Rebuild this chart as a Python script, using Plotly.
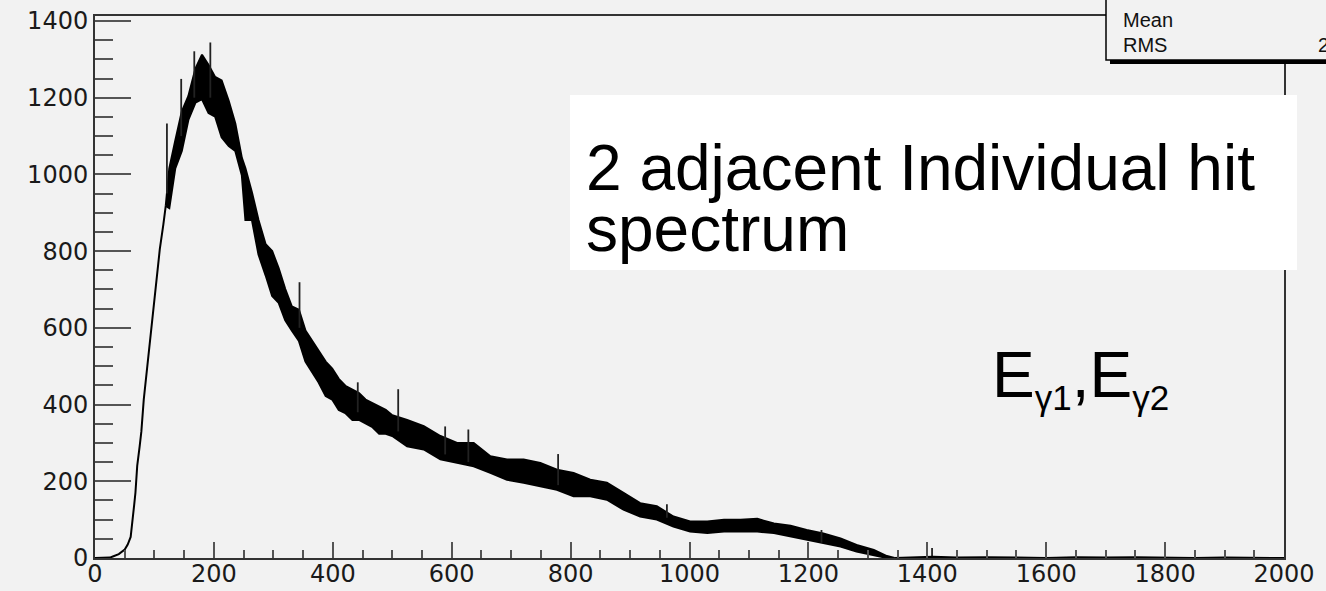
import plotly.graph_objects as go

# ---------------- data ----------------
# rising edge (single thin line): energy, counts
rise_energy = [0, 10, 20, 25, 30, 40, 50, 55, 60, 63, 66, 68, 71, 75, 78, 82, 88, 94, 101, 103, 109, 115, 119]
rise_counts = [0, 0, 0, 1, 4, 10, 22, 35, 55, 90, 140, 170, 240, 290, 330, 413, 500, 587, 672, 700, 805, 870, 918]

# noisy band: energy, upper edge, lower edge of the fluctuating histogram
band_energy = [119, 125, 135, 146, 157, 169, 180, 191, 202, 213, 225, 236, 247, 253, 264, 275, 287, 298,
               309, 320, 331, 343, 354, 365, 376, 388, 399, 410, 421, 433, 444, 455, 466, 478, 489, 500,
               525, 553, 581, 609, 637, 665, 693, 721, 749, 777, 805, 833, 861, 889, 917, 945, 973,
               1001, 1030, 1058, 1086, 1114, 1142, 1170, 1197, 1225, 1254, 1281, 1310, 1332, 1345]
band_upper = [918, 1016, 1088, 1164, 1204, 1276, 1312, 1285, 1254, 1245, 1191, 1133, 1043, 1016, 953, 881, 818, 800,
              755, 701, 656, 647, 593, 566, 539, 512, 494, 467, 449, 440, 430, 413, 404, 396, 386, 372,
              360, 344, 318, 300, 300, 265, 257, 257, 248, 230, 222, 204, 196, 170, 143, 135, 108,
              95, 95, 100, 100, 102, 90, 84, 73, 64, 51, 34, 21, 5, 0]
band_lower = [918, 912, 1016, 1061, 1142, 1187, 1196, 1160, 1151, 1097, 1074, 1061, 998, 881, 881, 791, 737, 683,
              665, 620, 593, 566, 512, 485, 458, 422, 413, 386, 378, 360, 360, 351, 342, 324, 324, 318,
              291, 283, 257, 248, 239, 222, 204, 196, 187, 178, 161, 161, 152, 126, 108, 100, 82,
              69, 65, 69, 69, 69, 65, 56, 47, 38, 30, 17, 8, 0, 0]

# isolated spikes above the band: energy, spike top, base
spike_energy = [121, 145, 167, 194, 344, 442, 510, 589, 628, 779, 962, 1222, 1408]
spike_top = [1133, 1249, 1321, 1344, 719, 458, 440, 343, 335, 271, 140, 73, 26]
spike_base = [950, 1100, 1200, 1200, 600, 380, 330, 270, 250, 190, 105, 40, 0]

# empty tail with tiny fluctuations
tail_energy = [1345, 1380, 1410, 1450, 1500, 1550, 1600, 1650, 1700, 1750, 1800, 1850, 1900, 1950, 2000]
tail_counts = [0, 1, 3, 1, 2, 1, 0, 2, 1, 2, 1, 0, 1, 0, 0]

x_ticks = [0, 200, 400, 600, 800, 1000, 1200, 1400, 1600, 1800, 2000]
y_ticks = [0, 200, 400, 600, 800, 1000, 1200, 1400]

# ---------------- figure ----------------
W, H = 1326, 591
L, R, T, B = 95, 42, 16, 33
PW, PH = W - L - R, H - T - B


def px_x(p):
    return (p - L) / PW


def px_y(p):
    return (H - B - p) / PH


BG = "#f2f2f2"
LINE = dict(color="black", width=2)

fig = go.Figure()

fig.add_trace(go.Scatter(x=rise_energy, y=rise_counts, mode="lines", line=LINE, hoverinfo="skip"))
fig.add_trace(go.Scatter(x=band_energy, y=band_lower, mode="lines", line=LINE, hoverinfo="skip"))
fig.add_trace(go.Scatter(x=band_energy, y=band_upper, mode="lines", line=LINE,
                         fill="tonexty", fillcolor="black", hoverinfo="skip"))

sx, sy = [], []
for e, t, b in zip(spike_energy, spike_top, spike_base):
    sx += [e, e, None]
    sy += [b, t, None]
fig.add_trace(go.Scatter(x=sx, y=sy, mode="lines", line=dict(color="#222", width=1.8), hoverinfo="skip"))
fig.add_trace(go.Scatter(x=tail_energy, y=tail_counts, mode="lines", line=LINE, hoverinfo="skip"))

TICKFONT = dict(family="DejaVu Sans", size=24, color="#1a1a1a")

fig.update_xaxes(range=[0, 2000], tickvals=x_ticks, ticktext=[str(v) for v in x_ticks],
                 ticks="inside", ticklen=16, tickwidth=2, tickcolor="#555",
                 minor=dict(dtick=50, tick0=0, ticks="inside", ticklen=8, tickwidth=2, tickcolor="#555"),
                 showline=True, linecolor="#333", linewidth=2, mirror=True, automargin=False,
                 ticklabelstandoff=-7,
                 showgrid=False, zeroline=False, tickfont=TICKFONT)
fig.update_yaxes(range=[0, 1413], tickvals=y_ticks, ticktext=[str(v) for v in y_ticks],
                 ticks="inside", ticklen=36, tickwidth=2, tickcolor="#555",
                 minor=dict(dtick=50, tick0=0, ticks="inside", ticklen=18, tickwidth=2, tickcolor="#555"),
                 showline=True, linecolor="#333", linewidth=2, mirror=True, automargin=False,
                 showgrid=False, zeroline=False, tickfont=TICKFONT)

shapes = [
    # white label box
    dict(type="rect", xref="paper", yref="paper", layer="above",
         x0=px_x(570), x1=px_x(1297), y0=px_y(270), y1=px_y(95),
         fillcolor="white", line=dict(width=0)),
    # stats box shadow
    dict(type="rect", xref="paper", yref="paper", layer="above",
         x0=px_x(1110), x1=px_x(1345), y0=px_y(64), y1=px_y(-20),
         fillcolor="black", line=dict(width=0)),
    # stats box
    dict(type="rect", xref="paper", yref="paper", layer="above",
         x0=px_x(1106), x1=px_x(1340), y0=px_y(60), y1=px_y(-20),
         fillcolor=BG, line=dict(color="black", width=1.5)),
]

STATFONT = dict(family="Liberation Sans", size=20, color="#111")
BIGFONT = dict(family="Liberation Sans", size=64, color="black")
annotations = [
    dict(text="2 adjacent Individual hit", x=px_x(584), y=px_y(168), xref="paper", yref="paper",
         xanchor="left", yanchor="middle", showarrow=False, font=BIGFONT),
    dict(text="spectrum", x=px_x(584), y=px_y(229), xref="paper", yref="paper",
         xanchor="left", yanchor="middle", showarrow=False, font=BIGFONT),
    dict(text='E<sub><span style="font-size:35px">γ1</span></sub>,E<sub><span style="font-size:35px">γ2</span></sub>',
         x=px_x(990), y=px_y(378), xref="paper", yref="paper",
         xanchor="left", yanchor="middle", showarrow=False, font=BIGFONT),
    dict(text="Mean", x=px_x(1121), y=px_y(20), xref="paper", yref="paper",
         xanchor="left", yanchor="middle", showarrow=False, font=STATFONT),
    dict(text="RMS", x=px_x(1121), y=px_y(45), xref="paper", yref="paper",
         xanchor="left", yanchor="middle", showarrow=False, font=STATFONT),
    dict(text="2", x=px_x(1316), y=px_y(45), xref="paper", yref="paper",
         xanchor="left", yanchor="middle", showarrow=False, font=STATFONT),
]

fig.update_layout(width=W, height=H, autosize=False,
                  margin=dict(l=L, r=R, t=T, b=B, pad=0),
                  paper_bgcolor=BG, plot_bgcolor=BG, showlegend=False,
                  shapes=shapes, annotations=annotations)

fig.write_html("out.html")
